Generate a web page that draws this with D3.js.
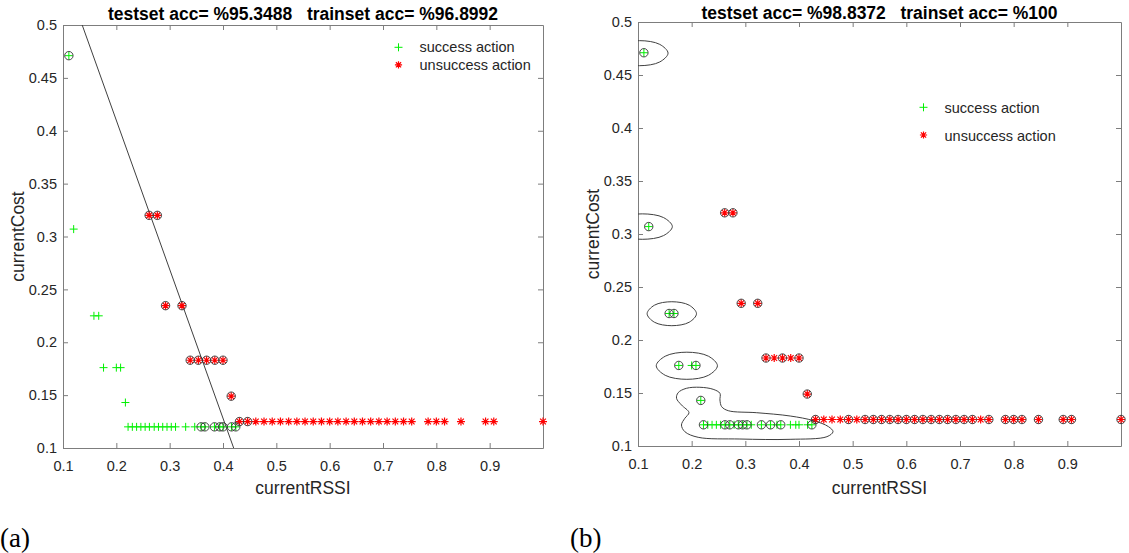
<!DOCTYPE html>
<html>
<head>
<meta charset="utf-8">
<script src="https://cdn.jsdelivr.net/npm/d3@7"></script>
<style>
  body { margin: 0; background: #fff; }
  text { font-family: "Liberation Sans", Arial, sans-serif; }
</style>
</head>
<body>
<svg id="chart"></svg>
<script>
// axis ticks
const xTicks = [0.1, 0.2, 0.3, 0.4, 0.5, 0.6, 0.7, 0.8, 0.9]
const xTickLabels = ["0.1", "0.2", "0.3", "0.4", "0.5", "0.6", "0.7", "0.8", "0.9"]
const yTicks = [0.1, 0.15, 0.2, 0.25, 0.3, 0.35, 0.4, 0.45, 0.5]
const yTickLabels = ["0.1", "0.15", "0.2", "0.25", "0.3", "0.35", "0.4", "0.45", "0.5"]

// success action points (green +)
const successX = [0.111, 0.120, 0.158, 0.167, 0.176, 0.200, 0.208, 0.217,
  0.222, 0.230, 0.238, 0.246, 0.254, 0.262, 0.271, 0.279, 0.287, 0.295, 0.303,
  0.311, 0.330, 0.347, 0.359, 0.366, 0.384, 0.394, 0.400, 0.416, 0.424]
const successY = [0.471, 0.307, 0.225, 0.225, 0.176, 0.176, 0.176, 0.143,
  0.12, 0.12, 0.12, 0.12, 0.12, 0.12, 0.12, 0.12, 0.12, 0.12, 0.12,
  0.12, 0.12, 0.12, 0.12, 0.12, 0.12, 0.12, 0.12, 0.12, 0.12]

// unsuccess action points (red *)
const failX = [0.2615, 0.2769, 0.2923, 0.3231, 0.3385, 0.3538, 0.3692, 0.3846, 0.4000, 0.4154,
  0.4308, 0.4462, 0.4615, 0.4769, 0.4923, 0.5077, 0.5231, 0.5385, 0.5538, 0.5692, 0.5846,
  0.6000, 0.6154, 0.6308, 0.6462, 0.6615, 0.6769, 0.6923, 0.7077, 0.7231, 0.7385, 0.7538,
  0.7846, 0.8000, 0.8154, 0.8462, 0.8923, 0.9077, 1.0000]
const failY = [0.32, 0.32, 0.2346, 0.2346, 0.183, 0.183, 0.183, 0.183, 0.183, 0.149,
  0.125, 0.125, 0.125, 0.125, 0.125, 0.125, 0.125, 0.125, 0.125, 0.125, 0.125,
  0.125, 0.125, 0.125, 0.125, 0.125, 0.125, 0.125, 0.125, 0.125, 0.125, 0.125,
  0.125, 0.125, 0.125, 0.125, 0.125, 0.125, 0.125]

// support vectors (circled) for plot (a) and (b)
const svA_success = [1, 0, 0, 0, 0, 0, 0, 0,
  0, 0, 0, 0, 0, 0, 0, 0, 0, 0, 0, 0, 0, 0, 1, 1, 1, 1, 1, 1, 1]
const svA_fail = [1, 1, 1, 1, 1, 1, 1, 1, 1, 1,
  1, 1, 0, 0, 0, 0, 0, 0, 0, 0, 0, 0, 0, 0, 0, 0, 0, 0, 0, 0, 0, 0,
  0, 0, 0, 0, 0, 0, 0]
const svB_success = [1, 1, 1, 1, 1, 0, 1, 1,
  1, 0, 0, 0, 0, 1, 1, 0, 1, 1, 1, 0, 1, 1, 0, 1, 0, 0, 0, 0, 1]
const svB_fail = [1, 1, 1, 1, 1, 0, 1, 0, 1, 1,
  1, 0, 0, 0, 1, 0, 1, 1, 1, 1, 1, 1, 1, 1, 1, 1, 1, 1, 1, 1, 0, 1,
  1, 1, 1, 1, 1, 1, 1]

// linear boundary (a)
const boundaryA = [[0.136, 0.5], [0.42, 0.1]]

// rbf boundary contours (b)
const contour1 = [[0.156, 0.4706], [0.1405, 0.4789], [0.103, 0.4824], [0.0655, 0.4789],
  [0.050, 0.4706], [0.0655, 0.4623], [0.103, 0.4588], [0.1405, 0.4623]]
const contour2 = [[0.164, 0.307], [0.1476, 0.3155], [0.108, 0.319], [0.0684, 0.3155],
  [0.052, 0.307], [0.0684, 0.2985], [0.108, 0.295], [0.1476, 0.2985]]
const contour3 = [[0.209, 0.2248], [0.1955, 0.2328], [0.163, 0.2361], [0.1305, 0.2328],
  [0.117, 0.2248], [0.1305, 0.2168], [0.163, 0.2135], [0.1955, 0.2168]]
const contour4 = [[0.248, 0.1757], [0.2313, 0.1847], [0.191, 0.1885], [0.1507, 0.1847],
  [0.134, 0.1757], [0.1507, 0.1667], [0.191, 0.1629], [0.2313, 0.1667]]
const contour5 = [[0.2527, 0.1434], [0.2527, 0.1497], [0.240, 0.1535], [0.2153, 0.1554],
  [0.190, 0.1544], [0.1748, 0.1503], [0.1718, 0.1450], [0.181, 0.1387], [0.1950, 0.1315],
  [0.1872, 0.1261], [0.181, 0.1198], [0.1873, 0.1135], [0.2121, 0.1082], [0.2899, 0.1066],
  [0.3834, 0.1063], [0.4521, 0.1088], [0.4634, 0.1135], [0.4551, 0.1182], [0.4271, 0.1239],
  [0.3836, 0.1283], [0.3213, 0.1314], [0.2682, 0.1333], [0.2559, 0.1371]]

const AXIS_COLOR = "#7d7d7d"
const TEXT_COLOR = "#262626"
const GREEN = "#00f000"
const RED = "#ff0000"

let svg = d3.select("#chart")
  .attr("width", 1129)
  .attr("height", 553)

svg.append("rect").attr("width", 1129).attr("height", 553).attr("fill", "#fff")

function plusPath(s) { return `M${-s},0H${s}M0,${-s}V${s}` }
function starPath(s) {
  let d = s * 0.72
  return plusPath(s) + `M${-d},${-d}L${d},${d}M${-d},${d}L${d},${-d}`
}

function drawPanel(p) {
  let x = d3.scaleLinear().domain([0.1, 1.0]).range([p.left, p.right])
  let y = d3.scaleLinear().domain([0.1, 0.5]).range([p.bottom, p.top])

  let g = svg.append("g")

  g.append("clipPath").attr("id", "clip" + p.id)
    .append("rect")
    .attr("x", p.left).attr("y", p.top)
    .attr("width", p.right - p.left).attr("height", p.bottom - p.top)

  // axes, MATLAB style inner ticks on all 4 sides
  let xb = g.append("g").attr("transform", `translate(0,${p.bottom})`)
    .call(d3.axisBottom(x).tickValues(xTicks).tickFormat(function(d, i) { return xTickLabels[i] })
      .tickSize(-5).tickSizeOuter(0).tickPadding(12.5))
  let xt = g.append("g").attr("transform", `translate(0,${p.top})`)
    .call(d3.axisTop(x).tickValues(xTicks).tickFormat("").tickSize(-5).tickSizeOuter(0))
  let yl = g.append("g").attr("transform", `translate(${p.left},0)`)
    .call(d3.axisLeft(y).tickValues(yTicks).tickFormat(function(d, i) { return yTickLabels[i] })
      .tickSize(-5).tickSizeOuter(0).tickPadding(6))
  let yr = g.append("g").attr("transform", `translate(${p.right},0)`)
    .call(d3.axisRight(y).tickValues(yTicks).tickFormat("").tickSize(-5).tickSizeOuter(0))

  ;[xb, xt, yl, yr].forEach(function(a) {
    a.select(".domain").attr("stroke", AXIS_COLOR)
    a.selectAll(".tick line").attr("stroke", AXIS_COLOR)
    a.selectAll(".tick text").attr("fill", TEXT_COLOR).style("font-size", "14.5px")
      .style("font-family", "'Liberation Sans', Arial, sans-serif")
  })

  let plot = g.append("g").attr("clip-path", `url(#clip${p.id})`)

  if (p.boundary) {
    plot.append("path")
      .attr("d", d3.line().x(function(d) { return x(d[0]) }).y(function(d) { return y(d[1]) })(p.boundary))
      .attr("fill", "none").attr("stroke", "#404040").attr("stroke-width", 1)
  }
  if (p.contours) {
    let line = d3.line()
      .x(function(d) { return x(d[0]) })
      .y(function(d) { return y(d[1]) })
      .curve(d3.curveCatmullRomClosed.alpha(0.5))
    plot.selectAll(".contour").data(p.contours).enter()
      .append("path")
      .attr("class", "contour")
      .attr("d", function(d) { return line(d) })
      .attr("fill", "none").attr("stroke", "#404040").attr("stroke-width", 1)
  }

  let idxS = d3.range(successX.length)
  let idxF = d3.range(failX.length)

  g.selectAll(".succ").data(idxS).enter()
    .append("path")
    .attr("class", "succ")
    .attr("transform", function(i) { return `translate(${x(successX[i])},${y(successY[i])})` })
    .attr("d", plusPath(4))
    .attr("stroke", GREEN).attr("stroke-width", 1).attr("fill", "none")

  g.selectAll(".fail").data(idxF).enter()
    .append("path")
    .attr("class", "fail")
    .attr("transform", function(i) { return `translate(${x(failX[i])},${y(failY[i])})` })
    .attr("d", starPath(4))
    .attr("stroke", RED).attr("stroke-width", 1.2).attr("fill", "none")

  // circles around support vectors
  g.selectAll(".svs").data(idxS.filter(function(i) { return p.svS[i] })).enter()
    .append("circle")
    .attr("cx", function(i) { return x(successX[i]) })
    .attr("cy", function(i) { return y(successY[i]) })
    .attr("r", 4.2)
    .attr("fill", "none").attr("stroke", "#333").attr("stroke-width", 0.9)

  g.selectAll(".svf").data(idxF.filter(function(i) { return p.svF[i] })).enter()
    .append("circle")
    .attr("cx", function(i) { return x(failX[i]) })
    .attr("cy", function(i) { return y(failY[i]) })
    .attr("r", 4.2)
    .attr("fill", "none").attr("stroke", "#333").attr("stroke-width", 0.9)

  // legend
  g.append("path").attr("transform", `translate(${p.legX},${p.legY1})`)
    .attr("d", plusPath(4)).attr("stroke", GREEN).attr("fill", "none")
  g.append("path").attr("transform", `translate(${p.legX},${p.legY2})`)
    .attr("d", starPath(3.6)).attr("stroke", RED).attr("stroke-width", 1.2).attr("fill", "none")
  g.append("text").attr("x", p.legTx).attr("y", p.legB1).text("success action")
    .attr("fill", TEXT_COLOR).style("font-size", "14.5px")
  g.append("text").attr("x", p.legTx).attr("y", p.legB2).text("unsuccess action")
    .attr("fill", TEXT_COLOR).style("font-size", "14.5px")

  // title + labels
  g.append("text")
    .attr("x", (p.left + p.right) / 2).attr("y", p.titleY)
    .attr("text-anchor", "middle")
    .style("font-size", "17.5px").style("font-weight", "bold")
    .attr("xml:space", "preserve")
    .text(p.title)

  g.append("text")
    .attr("x", (p.left + p.right) / 2).attr("y", 494)
    .attr("text-anchor", "middle").attr("fill", TEXT_COLOR)
    .style("font-size", "17.5px")
    .text("currentRSSI")

  g.append("text")
    .attr("transform", `translate(${p.ylabX},${(p.top + p.bottom) / 2}) rotate(-90)`)
    .attr("text-anchor", "middle").attr("fill", TEXT_COLOR)
    .style("font-size", "17.5px")
    .text("currentCost")

  g.append("text")
    .attr("x", p.tagX).attr("y", 547)
    .style("font-family", "'Liberation Serif', 'DejaVu Serif', serif")
    .style("font-size", "27px")
    .text(p.tag)
}

drawPanel({
  id: "a", left: 63, right: 543, top: 25, bottom: 448,
  title: "testset acc= %95.3488   trainset acc= %96.8992", titleY: 20,
  svS: svA_success, svF: svA_fail, boundary: boundaryA,
  legX: 398.5, legY1: 47.3, legY2: 64.8, legTx: 419.5, legB1: 52.3, legB2: 69.5,
  ylabX: 24, tagX: 0, tag: "(a)"
})

drawPanel({
  id: "b", left: 638, right: 1121, top: 22, bottom: 446,
  title: "testset acc= %98.8372   trainset acc= %100", titleY: 19,
  svS: svB_success, svF: svB_fail,
  contours: [contour1, contour2, contour3, contour4, contour5],
  legX: 923.5, legY1: 107.3, legY2: 135, legTx: 944.5, legB1: 113.3, legB2: 140.7,
  ylabX: 599, tagX: 570, tag: "(b)"
})
</script>
</body>
</html>
